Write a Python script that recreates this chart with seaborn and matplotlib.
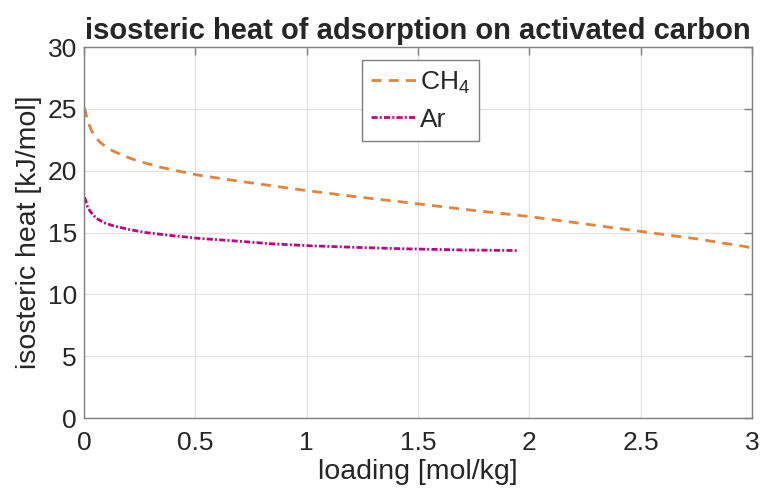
import numpy as np
import pandas as pd
import matplotlib
matplotlib.use("Agg")
import matplotlib.pyplot as plt
import seaborn as sns

# values
ch4_loading = [0.0, 0.005, 0.012, 0.022, 0.035, 0.05, 0.07, 0.094, 0.13, 0.169, 0.21, 0.251,
               0.341, 0.431, 0.513, 0.7, 0.84, 1.0, 1.2, 1.42, 1.7, 2.0, 2.25, 2.5, 2.75, 2.96, 3.0]
ch4_heat = [25.1, 24.9, 24.4, 23.8, 23.2, 22.75, 22.35, 22.0, 21.6, 21.3, 21.0, 20.75,
            20.3, 19.95, 19.65, 19.15, 18.8, 18.4, 17.95, 17.5, 16.9, 16.3, 15.7, 15.1, 14.5, 13.9, 13.75]
ar_loading = [0.003, 0.008, 0.015, 0.027, 0.04, 0.057, 0.09, 0.132, 0.207, 0.28, 0.386, 0.513,
              0.7, 0.84, 1.0, 1.2, 1.42, 1.7, 1.95]
ar_heat = [17.85, 17.6, 17.15, 16.75, 16.45, 16.15, 15.8, 15.55, 15.24, 15.0, 14.78, 14.54,
           14.3, 14.1, 13.95, 13.82, 13.7, 13.6, 13.55]

df = pd.concat([
    pd.DataFrame({"loading": ch4_loading, "heat": ch4_heat, "gas": "CH$_4$"}),
    pd.DataFrame({"loading": ar_loading, "heat": ar_heat, "gas": "Ar"}),
])

sns.set_style("white")
plt.rcParams["font.family"] = ["Liberation Sans", "DejaVu Sans"]
plt.rcParams["mathtext.fontset"] = "custom"
plt.rcParams["mathtext.rm"] = "Liberation Sans"

fig = plt.figure(figsize=(7.63, 4.96), dpi=100)
ax = fig.add_axes([0.110, 0.157, 0.8756, 0.748])

palette = {"CH$_4$": "#E3843A", "Ar": "#BE0682"}
sns.lineplot(data=df, x="loading", y="heat", hue="gas", style="gas",
             palette=palette, dashes={"CH$_4$": (3.6, 2.6), "Ar": (2.2, 0.8, 0.7, 0.8)},
             linewidth=2.0, sort=False, estimator=None, ax=ax)

ax.set_xlim(0, 3)
ax.set_ylim(0, 30)
ax.set_xticks(np.arange(0, 3.01, 0.5))
ax.set_xticklabels(["0", "0.5", "1", "1.5", "2", "2.5", "3"])
ax.set_yticks(np.arange(0, 31, 5))
ax.grid(True, color="#e3e3e3", linewidth=0.9)
for s in ax.spines.values():
    s.set_color("#7f7f7f")
    s.set_linewidth(1.0)
ax.tick_params(direction="in", length=6, width=1.0, color="#7f7f7f",
               labelsize=19, labelcolor="#262626", top=True, right=True, pad=5)
ax.tick_params(axis="x", pad=9)
ax.set_xlabel("loading [mol/kg]", fontsize=20.5, color="#262626", labelpad=3)
ax.set_ylabel("isosteric heat [kJ/mol]", fontsize=20.5, color="#262626", labelpad=4)
ax.set_title("isosteric heat of adsorption on activated carbon",
             fontsize=21, fontweight="bold", pad=6)

leg = ax.legend(loc="upper left", bbox_to_anchor=(0.416, 0.965), borderaxespad=0,
                fontsize=19, frameon=True, fancybox=False, framealpha=1,
                handlelength=1.7, borderpad=0.35, labelspacing=0.45, handletextpad=0.15)
leg.get_frame().set_edgecolor("#7f7f7f")
leg.get_frame().set_linewidth(1.0)

fig.savefig("out.png", dpi=100)
